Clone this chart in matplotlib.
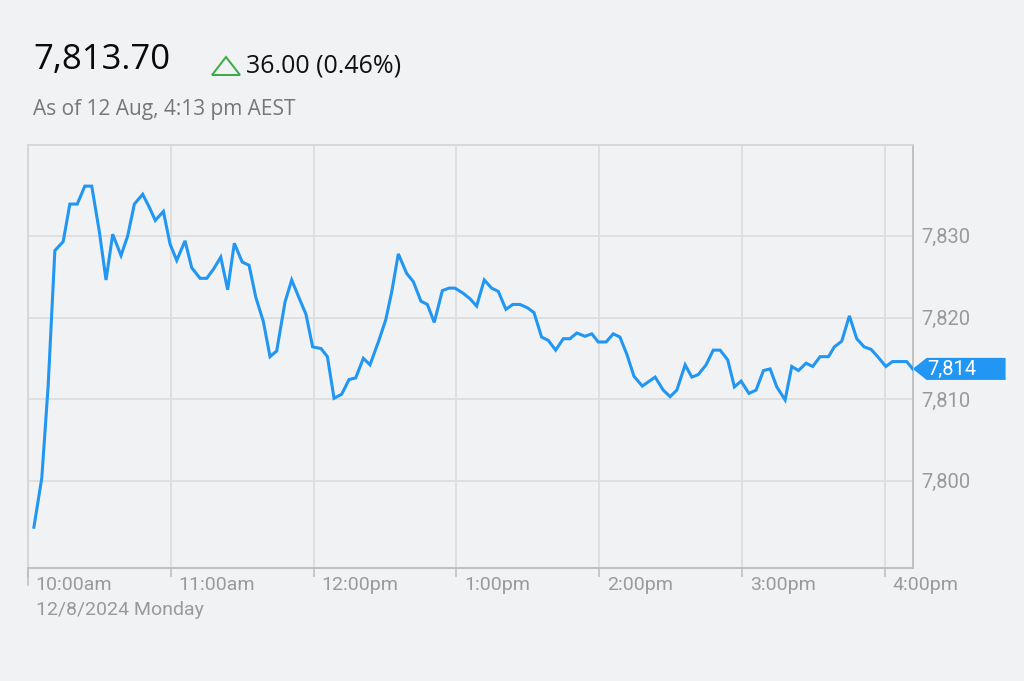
import matplotlib.pyplot as plt
import matplotlib.transforms as mtransforms
from matplotlib.patches import Polygon

# minutes after 10:00am, and index value
minutes = [2.5, 5.8, 8.5, 11.3, 14.8, 17.6, 20.7, 23.9, 26.8, 30.0,
           32.8, 35.6, 39.1, 41.9, 44.7, 48.2, 51.0, 53.5, 56.9, 59.7,
           62.5, 66.0, 68.8, 72.3, 75.1, 77.9, 81.0, 83.9, 86.7, 90.0,
           92.9, 95.7, 98.9, 101.7, 104.5, 108.0, 110.8, 113.9, 116.8, 119.6,
           123.1, 125.8, 128.6, 131.8, 134.9, 137.7, 140.9, 143.7, 147.2, 150.3,
           152.8, 155.6, 159.1, 161.9, 165.1, 167.8, 170.7, 174.1, 176.9, 179.4,
           182.7, 185.7, 188.5, 191.7, 194.8, 197.6, 200.8, 203.7, 206.7, 209.8,
           212.6, 215.8, 218.6, 221.7, 224.9, 227.7, 230.6, 234.0, 236.9, 239.6,
           242.9, 245.9, 248.7, 251.6, 254.6, 258.1, 263.5, 266.9, 269.8, 272.6,
           276.1, 278.9, 281.6, 284.9, 287.9, 290.8, 294.0, 296.8, 299.6, 302.9,
           305.9, 309.0, 311.8, 314.6, 318.1, 320.9, 323.7, 326.9, 329.7, 332.8,
           336.3, 338.8, 341.9, 345.1, 348.2, 351.3, 354.2, 357.0, 360.4, 363.2,
           366.0, 369.2, 371.7]
values = [7794.3, 7800.3, 7811.7, 7828.2, 7829.3, 7833.9, 7833.9, 7836.1, 7836.1, 7830.5,
          7824.6, 7830.2, 7827.6, 7830.0, 7833.9, 7835.1, 7833.5, 7831.9, 7833.0, 7829.0,
          7827.0, 7829.4, 7826.1, 7824.8, 7824.8, 7825.9, 7827.4, 7823.4, 7829.1, 7826.8,
          7826.4, 7822.5, 7819.5, 7815.2, 7815.9, 7821.9, 7824.6, 7822.4, 7820.4, 7816.4,
          7816.2, 7815.2, 7810.1, 7810.6, 7812.4, 7812.6, 7815.0, 7814.2, 7817.0, 7819.7,
          7823.1, 7827.8, 7825.4, 7824.4, 7822.0, 7821.6, 7819.4, 7823.3, 7823.6, 7823.6,
          7823.0, 7822.3, 7821.4, 7824.6, 7823.6, 7823.2, 7821.0, 7821.6, 7821.6, 7821.2,
          7820.6, 7817.6, 7817.2, 7816.0, 7817.4, 7817.4, 7818.1, 7817.7, 7818.0, 7817.0,
          7817.0, 7818.0, 7817.6, 7815.5, 7812.8, 7811.6, 7812.7, 7811.1, 7810.3, 7811.1,
          7814.2, 7812.7, 7813.0, 7814.2, 7816.0, 7816.0, 7814.8, 7811.5, 7812.2, 7810.7,
          7811.1, 7813.5, 7813.7, 7811.5, 7809.9, 7814.0, 7813.5, 7814.4, 7814.0, 7815.2,
          7815.2, 7816.4, 7817.1, 7820.2, 7817.4, 7816.4, 7816.1, 7815.2, 7814.0, 7814.6,
          7814.6, 7814.6, 7813.7]

hour_ticks = [0, 60, 120, 180, 240, 300, 360]
hour_labels = ["10:00am", "11:00am", "12:00pm", "1:00pm", "2:00pm", "3:00pm", "4:00pm"]
y_ticks = [7800, 7810, 7820, 7830]

last_price = "7,813.70"
change_text = "36.00 (0.46%)"
as_of_text = "As of 12 Aug, 4:13 pm AEST"
date_text = "12/8/2024 Monday"

bg = '#f1f2f4'
blue = '#2196f3'
grid_c = '#dddee0'
label_c = '#9a9a9a'

fig = plt.figure(figsize=(10.24, 6.81), dpi=100, facecolor=bg)
ax = fig.add_axes([0.0273, 0.1659, 0.8640, 0.6219])
ax.set_facecolor(bg)

ax.plot(minutes, values, color=blue, lw=2.2, solid_joinstyle='miter', zorder=3)

ax.set_xlim(0, 371.7)
ax.set_ylim(7789.3, 7841.2)

ax.set_xticks(hour_ticks)
ax.set_xticklabels([])
ax.set_yticks(y_ticks)
ax.set_yticklabels([f"{v:,}" for v in y_ticks], fontsize=14.5, family='Roboto', color=label_c)
ax.yaxis.tick_right()
ax.tick_params(axis='y', length=0, pad=6)
ax.tick_params(axis='x', length=6.5, width=1.1, color='#bdbdbd', direction='out')
ax.grid(True, color=grid_c, lw=1.3)
ax.set_axisbelow(True)

for side in ['left', 'top']:
    ax.spines[side].set_color('#d6d6d8')
    ax.spines[side].set_linewidth(1.3)
for side in ['right', 'bottom']:
    ax.spines[side].set_color('#bcbcbc')
    ax.spines[side].set_linewidth(1.3)

# longer tick at the session start
trans = mtransforms.blended_transform_factory(ax.transData, ax.transAxes)
ax.plot([0, 0], [0, -0.04], transform=trans, color='#bdbdbd', lw=1.1, clip_on=False)

# hour labels to the right of each tick
for m, lab in zip(hour_ticks, hour_labels):
    ax.annotate(lab, xy=(m, 0), xycoords=trans, xytext=(5.5, -12.5), textcoords='offset points',
                ha='left', va='center', fontsize=14, family='Roboto', color=label_c)
ax.annotate(date_text, xy=(0, 0), xycoords=trans, xytext=(5.5, -30.5), textcoords='offset points',
            ha='left', va='center', fontsize=14, family='Roboto', color=label_c)

# price tag on the right axis
last = values[-1]
tag_trans = mtransforms.blended_transform_factory(ax.transAxes, ax.transData)
h = 1.35
tag = Polygon([(1.0, last), (1.0158, last + h), (1.105, last + h), (1.105, last - h), (1.0158, last - h)],
              closed=True, transform=tag_trans, facecolor=blue, edgecolor='none', clip_on=False)
ax.add_patch(tag)
ax.text(1.017, last, f"{round(last):,}", transform=tag_trans, ha='left', va='center',
        fontsize=14.5, family='Roboto', color='white')

# header
fig.text(33 / 1024, 1 - 60 / 681, last_price, fontsize=25, family='Open Sans', fontweight='medium',
         color='#0a0a0a', ha='left', va='center')
tri = Polygon([(212 / 1024, 1 - 75 / 681), (240 / 1024, 1 - 75 / 681), (226 / 1024, 1 - 57 / 681)],
              closed=True, transform=fig.transFigure, facecolor='none', edgecolor='#3aaa45', lw=1.4)
fig.add_artist(tri)
fig.text(246 / 1024, 1 - 66 / 681, change_text, fontsize=18, family='Open Sans', color='#111111',
         ha='left', va='center')
fig.text(33 / 1024, 1 - 110 / 681, as_of_text, fontsize=15, family='Open Sans', color='#777777',
         ha='left', va='center')

fig.savefig('out.png', dpi=100, facecolor=bg)
